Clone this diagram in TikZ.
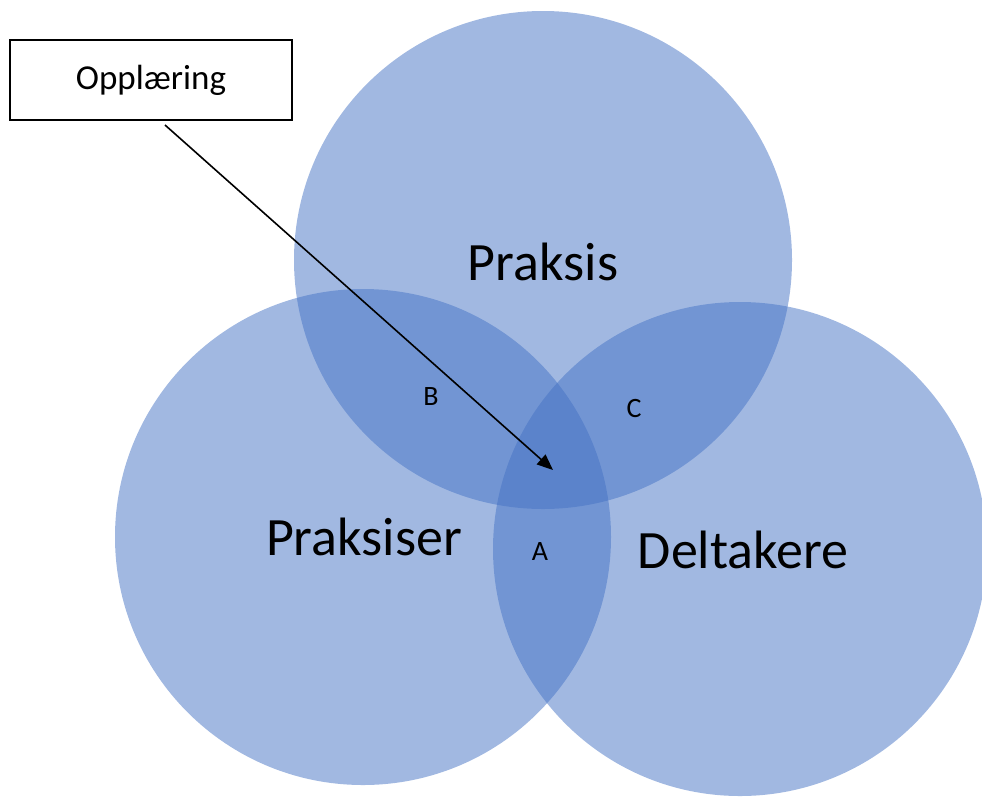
\documentclass[tikz,border=0pt]{standalone}
\usepackage{fontspec}
\setmainfont{Carlito}
\usetikzlibrary{arrows.meta}
\definecolor{vennblue}{RGB}{68,114,196}
\tikzset{
    venn/.style={circle, fill=vennblue, fill opacity=0.5, draw=none, minimum size=#1, inner sep=0pt},
    biglabel/.style={font=\fontsize{54}{62}\selectfont},
    smalllabel/.style={font=\fontsize{28}{32}\selectfont},
}
\begin{document}
\begin{tikzpicture}[x=1pt,y=-1pt]
                \useasboundingbox (0,0) rectangle (982,796);
                \node[venn=498pt] (praksis) at (543,260) {};
                \node[venn=496pt] (praksiser) at (363,537) {};
                \node[venn=494pt] (deltakere) at (740,549) {};

                \node[biglabel] (lpraksis) at (543,262) {Praksis};
                \node[biglabel] (lpraksiser) at (364,537) {Praksiser};
                \node[biglabel] (ldeltakere) at (743,550) {Deltakere};
                \node[smalllabel] (A) at (540,552) {A};
                \node[smalllabel] (B) at (431,397) {B};
                \node[smalllabel] (C) at (634,409) {C};

                \node[draw, line width=1.2pt, minimum width=282pt, minimum height=80pt, font=\fontsize{35}{42}\selectfont] (opplaering) at (151,80) {Opplæring};
                \coordinate (fra) at (165,125); \coordinate (mal) at (553,470);
                \draw[line width=1.6pt, -{Triangle[length=16pt,width=13pt]}] (fra) to (mal);
            \end{tikzpicture}
\end{document}
